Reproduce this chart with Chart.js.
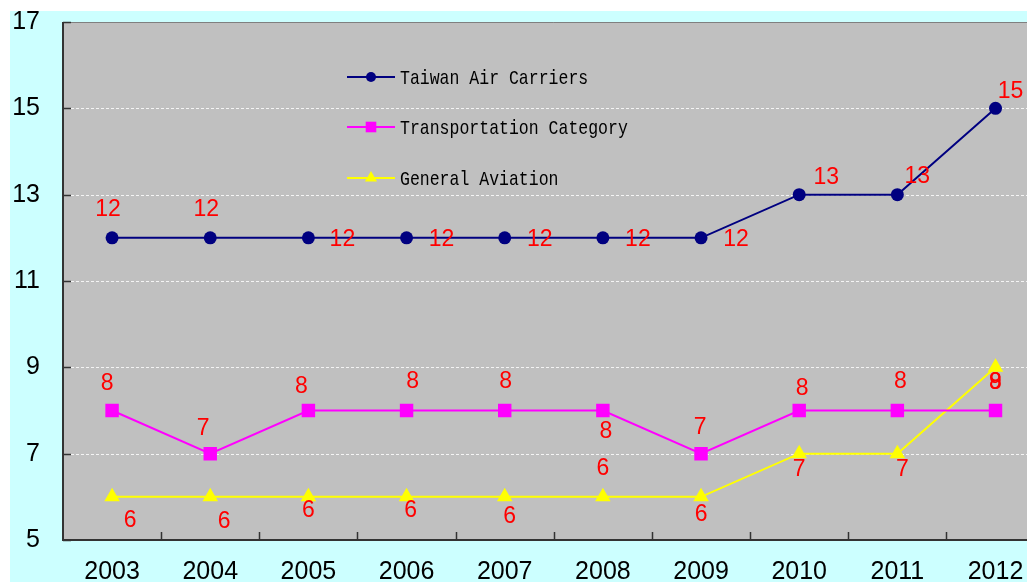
<!DOCTYPE html>
<html><head><meta charset="utf-8">
<script src="https://cdn.jsdelivr.net/npm/chart.js@4"></script>
<style>
html,body{margin:0;padding:0;background:#fff;overflow:hidden;width:1027px;height:586px}
#wrap{position:absolute;left:0;top:0;width:1060px;height:586px}
canvas{display:block}
</style></head><body>
<div id="wrap"><canvas id="c" width="1060" height="586"></canvas></div>
<script>
const years = ['2003','2004','2005','2006','2007','2008','2009','2010','2011','2012'];
const taiwanAirCarriers = [12,12,12,12,12,12,12,13,13,15];
const transportationCategory = [8,7,8,8,8,8,7,8,8,8];
const generalAviation = [6,6,6,6,6,6,6,7,7,9];
const yTicks = [5,7,9,11,13,15,17];
const seriesNames = ['Taiwan Air Carriers','Transportation Category','General Aviation'];

const labelOffsets = [
  [[-4,-28],[-4,-28],[34,2],[35,2],[35,2],[35,2],[35,2],[27,-17],[20,-18],[15,-17]],
  [[-5,-27],[-7,-25],[-7,-24],[6,-29],[1,-29],[3,21],[-1,-26],[3,-22],[3,-29],[0,-28]],
  [[18,24],[14,25],[0,14],[4,14],[5,20],[0,-28],[0,18],[0,16],[5,16],[0,15]]
];

const bgPlugin = {
  id: 'bg',
  beforeDraw(chart) {
    const ctx = chart.ctx, a = chart.chartArea;
    ctx.save();
    ctx.fillStyle = '#ffffff';
    ctx.fillRect(0, 0, chart.width, chart.height);
    ctx.fillStyle = '#ccffff';
    ctx.fillRect(10, 11, chart.width - 10, 571);
    ctx.fillStyle = '#c0c0c0';
    ctx.fillRect(a.left, a.top, a.right - a.left, a.bottom - a.top);
    ctx.restore();
  },
  beforeDatasetsDraw(chart) {
    const ctx = chart.ctx, a = chart.chartArea, y = chart.scales.y, x = chart.scales.x;
    ctx.save();
    ctx.strokeStyle = '#f4f4f4';
    ctx.lineWidth = 1;
    ctx.setLineDash([3, 2]);
    yTicks.forEach(v => {
      if (v === yTicks[0] || v === yTicks[yTicks.length - 1]) return;
      const py = Math.round(y.getPixelForValue(v)) + 0.5;
      ctx.beginPath(); ctx.moveTo(a.left + 8, py); ctx.lineTo(a.right, py); ctx.stroke();
    });
    ctx.setLineDash([]);
    ctx.strokeStyle = '#808080';
    ctx.beginPath(); ctx.moveTo(a.left, a.top + 0.5); ctx.lineTo(a.right, a.top + 0.5); ctx.stroke();
    ctx.strokeStyle = '#333333';
    ctx.lineWidth = 2;
    ctx.beginPath(); ctx.moveTo(a.left, a.top); ctx.lineTo(a.left, a.bottom); ctx.lineTo(a.right, a.bottom); ctx.stroke();
    ctx.lineWidth = 1.5;
    yTicks.forEach(v => {
      const py = Math.round(y.getPixelForValue(v)) + 0.5;
      ctx.beginPath(); ctx.moveTo(a.left, py); ctx.lineTo(a.left + 8, py); ctx.stroke();
    });
    for (let i = 1; i < years.length; i++) {
      const px = Math.round((x.getPixelForValue(i - 1) + x.getPixelForValue(i)) / 2) + 0.5;
      ctx.beginPath(); ctx.moveTo(px, a.bottom); ctx.lineTo(px, a.bottom - 8); ctx.stroke();
    }
    ctx.restore();
  },
  afterDatasetsDraw(chart) {
    const ctx = chart.ctx;
    ctx.save();
    ctx.fillStyle = '#ff0000';
    ctx.font = '23px "Liberation Sans", Arial, sans-serif';
    ctx.textAlign = 'center';
    ctx.textBaseline = 'middle';
    chart.data.datasets.forEach((ds, di) => {
      const meta = chart.getDatasetMeta(di);
      meta.data.forEach((pt, i) => {
        const o = labelOffsets[di][i];
        ctx.fillText(String(ds.data[i]), pt.x + o[0], pt.y + o[1]);
      });
    });
    const lx0 = 347, lx1 = 395, ly = [77, 127, 178];
    chart.data.datasets.forEach((ds, di) => {
      const yy = ly[di];
      ctx.strokeStyle = ds.borderColor;
      ctx.lineWidth = 2;
      ctx.beginPath(); ctx.moveTo(lx0, yy); ctx.lineTo(lx1, yy); ctx.stroke();
      const r = ds.pointStyle === 'circle' ? 5 : (ds.pointStyle === 'rect' ? 7.5 : 7);
      ctx.fillStyle = ds.backgroundColor;
      ctx.strokeStyle = ds.backgroundColor;
      Chart.helpers.drawPoint(ctx, {pointStyle: ds.pointStyle, radius: r, borderWidth: 0}, (lx0 + lx1) / 2, yy);
      ctx.save();
      ctx.translate(400, yy);
      ctx.scale(0.786, 1);
      ctx.fillStyle = '#000000';
      ctx.font = '21px "Liberation Mono", monospace';
      ctx.textAlign = 'left';
      ctx.textBaseline = 'middle';
      ctx.fillText(ds.label, 0, 1);
      ctx.restore();
    });
    ctx.restore();
  }
};

const chart = new Chart(document.getElementById('c'), {
  type: 'line',
  data: {
    labels: years,
    datasets: [
      {label: seriesNames[0], data: taiwanAirCarriers, borderColor: '#000080', backgroundColor: '#000080',
       pointStyle: 'circle', pointRadius: 6.5, pointBorderWidth: 0, borderWidth: 2, tension: 0},
      {label: seriesNames[1], data: transportationCategory, borderColor: '#ff00ff', backgroundColor: '#ff00ff',
       pointStyle: 'rect', pointRadius: 9.5, pointBorderWidth: 0, borderWidth: 2, tension: 0},
      {label: seriesNames[2], data: generalAviation, borderColor: '#ffff00', backgroundColor: '#ffff00',
       pointStyle: 'triangle', pointRadius: 9, pointBorderWidth: 0, borderWidth: 2, tension: 0}
    ]
  },
  options: {
    responsive: false,
    animation: false,
    layout: {padding: {left: 0, top: 22, right: 15.4, bottom: 0}},
    plugins: {legend: {display: false}, tooltip: {enabled: false}},
    scales: {
      x: {
        offset: true,
        grid: {display: false, drawTicks: false},
        border: {display: false},
        ticks: {color: '#000', font: {family: '"Liberation Sans", Arial, sans-serif', size: 25}, padding: 17, maxRotation: 0, autoSkip: false},
        afterFit(s) { s.height = 46; s.paddingLeft = 0; s.paddingRight = 0; }
      },
      y: {
        min: 5, max: 17,
        grid: {display: false, drawTicks: false},
        border: {display: false},
        ticks: {color: '#000', font: {family: '"Liberation Sans", Arial, sans-serif', size: 25}, padding: 23},
        afterBuildTicks(s) { s.ticks = yTicks.map(v => ({value: v})); },
        afterFit(s) { s.width = 63; s.paddingTop = 0; s.paddingBottom = 0; }
      }
    }
  },
  plugins: [bgPlugin]
});
</script>
</body></html>
